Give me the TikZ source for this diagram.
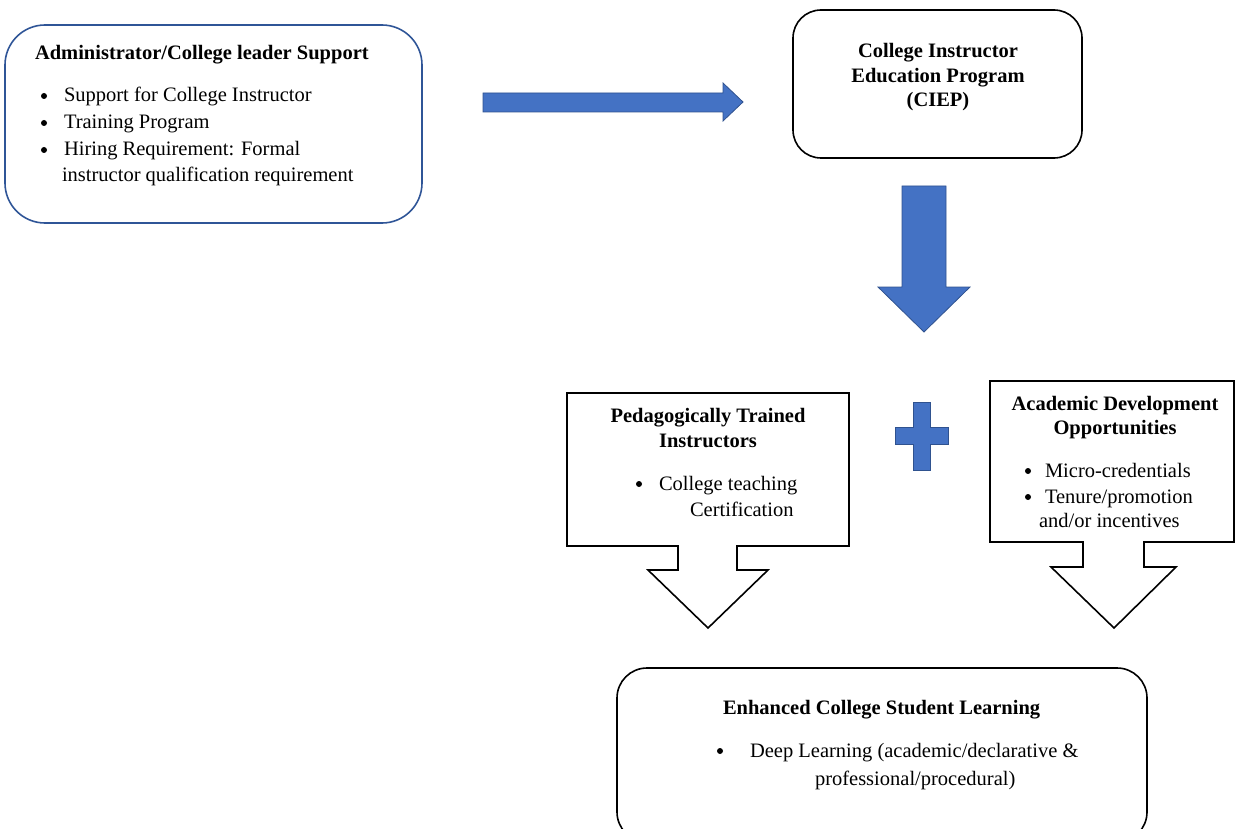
\documentclass[tikz,border=0pt]{standalone}
\usepackage{fontspec}
\setmainfont{Liberation Serif}
\definecolor{arrowblue}{HTML}{4472C4}
\definecolor{arrowedge}{HTML}{2F528F}
\definecolor{boxblue}{HTML}{2F5597}
\begin{document}
\begin{tikzpicture}[x=1pt,y=-1pt,
  txt/.style={inner sep=0pt,outer sep=0pt,font=\fontsize{20.5}{27}\selectfont},
  ttl/.style={txt,font=\fontsize{20.5}{27}\selectfont\bfseries},
  bul/.style={circle,fill=black,inner sep=0pt,minimum size=6pt},
  blockarrow/.style={fill=arrowblue,draw=arrowedge,line width=0.8pt,line join=miter},
  callout/.style={draw=black,fill=white,line width=1.6pt,line join=miter},
  rbox/.style={line width=1.6pt}]
\useasboundingbox (0,0) rectangle (1236,829);
\clip (0,0) rectangle (1236,829);

% Box 1: Administrator support
\draw[rbox,draw=boxblue] (5,25) [rounded corners=40pt] rectangle (422,223);
\node[ttl,anchor=base west] (t1) at (35,60) {Administrator/College leader Support};
\node[bul] (b11) at (44,96) {};
\node[txt,anchor=base west] (l11) at (64,102) {Support for College Instructor};
\node[bul] (b12) at (44,123) {};
\node[txt,anchor=base west] (l12) at (64,129) {Training Program};
\node[bul] (b13) at (44,150) {};
\node[txt,anchor=base west] (l13) at (64,156) {Hiring Requirement: Formal};
\node[txt,anchor=base west] (l14) at (62,182) {instructor qualification requirement};

% Right block arrow
\draw[blockarrow] (483,93) -- (723,93) -- (723,83) -- (743,102) -- (723,121) -- (723,112) -- (483,112) -- cycle;

% CIEP box
\draw[rbox,draw=black] (793,10) [rounded corners=28pt] rectangle (1082,158);
\node[ttl,anchor=base] (c1) at (938,58) {College Instructor};
\node[ttl,anchor=base] (c2) at (938,83) {Education Program};
\node[ttl,anchor=base] (c3) at (938,107) {(CIEP)};

% Down block arrow
\draw[blockarrow] (902,186) -- (946,186) -- (946,287) -- (970,287) -- (924,332) -- (878,287) -- (902,287) -- cycle;

% Left callout
\draw[callout] (567,393) -- (849,393) -- (849,546) -- (737,546) -- (737,570) -- (768,570) -- (708,628) -- (648,570) -- (678,570) -- (678,546) -- (567,546) -- cycle;
\node[ttl,anchor=base] (p1) at (708,422) {Pedagogically Trained};
\node[ttl,anchor=base] (p2) at (708,447) {Instructors};
\node[bul] (pb) at (639,484) {};
\node[txt,anchor=base west] (p3) at (659,490) {College teaching};
\node[txt,anchor=base west] (p4) at (690,516) {Certification};

% Plus sign
\draw[blockarrow] (913,402) -- (930,402) -- (930,427) -- (948,427) -- (948,444) -- (930,444) -- (930,470) -- (913,470) -- (913,444) -- (895,444) -- (895,427) -- (913,427) -- cycle;

% Right callout
\draw[callout] (990,381) -- (1234,381) -- (1234,542) -- (1144,542) -- (1144,567) -- (1176,567) -- (1114,628) -- (1051,567) -- (1083,567) -- (1083,542) -- (990,542) -- cycle;
\node[ttl,anchor=base] (a1) at (1115,410) {Academic Development};
\node[ttl,anchor=base] (a2) at (1115,434) {Opportunities};
\node[bul] (ab1) at (1028,471) {};
\node[txt,anchor=base west] (a3) at (1045,477) {Micro-credentials};
\node[bul] (ab2) at (1028,497) {};
\node[txt,anchor=base west] (a4) at (1045,503) {Tenure/promotion};
\node[txt,anchor=base west] (a5) at (1039,527) {and/or incentives};

% Bottom box
\draw[rbox,draw=black] (617,668) [rounded corners=30pt] rectangle (1147,842);
\node[ttl,anchor=base west] (e1) at (723,714) {Enhanced College Student Learning};
\node[bul] (eb) at (720,751) {};
\node[txt,anchor=base west] (e2) at (750,757) {Deep Learning (academic/declarative \&};
\node[txt,anchor=base west] (e3) at (815,785) {professional/procedural)};
\end{tikzpicture}
\end{document}
